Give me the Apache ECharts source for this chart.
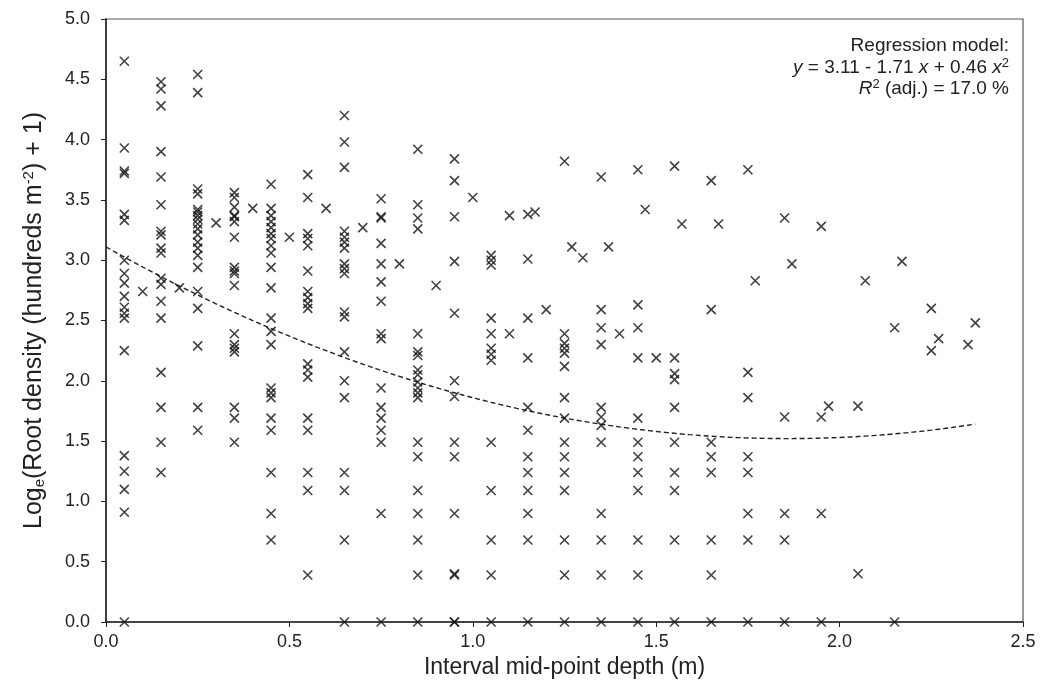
<!DOCTYPE html>
<html>
<head>
<meta charset="utf-8">
<script src="https://cdn.jsdelivr.net/npm/echarts@6/dist/echarts.min.js"></script>
<style>
  html, body { margin: 0; padding: 0; background: #fff; }
  #chart { width: 1044px; height: 697px; }
</style>
</head>
<body>
<div id="chart"></div>
<script>
// Interval mid-point depths (m) and the log root densities observed at each depth
const depths = [
  0.05, 0.10, 0.15, 0.20, 0.25, 0.30, 0.35, 0.40, 0.45, 0.50,
  0.55, 0.60, 0.65, 0.70, 0.75, 0.80, 0.85, 0.90, 0.95, 1.00,
  1.05, 1.10, 1.15, 1.17, 1.20, 1.25, 1.27, 1.30, 1.35, 1.37,
  1.40, 1.45, 1.47, 1.50, 1.55, 1.57, 1.65, 1.67, 1.75, 1.77,
  1.85, 1.87, 1.95, 1.97, 2.05, 2.07, 2.15, 2.17, 2.25, 2.27,
  2.35, 2.37
];
const logDensity = [
  [4.65, 3.93, 3.74, 3.72, 3.38, 3.33, 3.00, 2.89, 2.81, 2.70, 2.61, 2.56, 2.52, 2.25, 1.38, 1.25, 1.10, 0.91, 0.00],
  [2.74],
  [4.48, 4.42, 4.28, 3.90, 3.69, 3.46, 3.24, 3.21, 3.10, 3.06, 2.85, 2.80, 2.66, 2.52, 2.07, 1.78, 1.49, 1.24],
  [2.77],
  [4.54, 4.39, 3.59, 3.55, 3.42, 3.40, 3.37, 3.34, 3.30, 3.26, 3.21, 3.15, 3.10, 3.04, 2.94, 2.74, 2.60, 2.29, 1.78, 1.59],
  [3.31],
  [3.56, 3.52, 3.44, 3.37, 3.36, 3.32, 3.19, 2.94, 2.91, 2.89, 2.79, 2.39, 2.30, 2.27, 2.24, 1.78, 1.69, 1.49],
  [3.43],
  [3.63, 3.43, 3.37, 3.32, 3.27, 3.22, 3.18, 3.12, 3.06, 2.94, 2.77, 2.52, 2.41, 2.30, 1.94, 1.90, 1.86, 1.69, 1.59, 1.24, 0.90, 0.68],
  [3.19],
  [3.71, 3.52, 3.22, 3.18, 3.12, 2.91, 2.74, 2.69, 2.64, 2.60, 2.14, 2.09, 2.03, 1.69, 1.59, 1.24, 1.09, 0.39],
  [3.43],
  [4.20, 3.98, 3.77, 3.24, 3.19, 3.15, 3.10, 2.97, 2.93, 2.89, 2.57, 2.53, 2.24, 2.00, 1.86, 1.24, 1.09, 0.68, 0.00],
  [3.27],
  [3.51, 3.36, 3.35, 3.14, 2.97, 2.82, 2.66, 2.39, 2.35, 1.94, 1.78, 1.69, 1.59, 1.49, 0.90, 0.00],
  [2.97],
  [3.92, 3.46, 3.35, 3.26, 2.39, 2.24, 2.21, 2.09, 2.05, 1.99, 1.94, 1.90, 1.86, 1.49, 1.37, 1.09, 0.90, 0.68, 0.39, 0.00],
  [2.79],
  [3.84, 3.66, 3.36, 2.99, 2.56, 2.00, 1.87, 1.49, 1.37, 0.90, 0.40, 0.39, 0.00, 0.00],
  [3.52],
  [3.04, 3.00, 2.96, 2.52, 2.39, 2.27, 2.22, 2.17, 1.49, 1.09, 0.68, 0.39, 0.00],
  [3.37, 2.39],
  [3.38, 3.01, 2.52, 2.19, 1.78, 1.59, 1.37, 1.24, 1.09, 0.90, 0.68, 0.00],
  [3.40],
  [2.59],
  [3.82, 2.39, 2.31, 2.27, 2.23, 2.12, 1.86, 1.69, 1.49, 1.37, 1.24, 1.09, 0.68, 0.39, 0.00],
  [3.11],
  [3.02],
  [3.69, 2.59, 2.44, 2.30, 1.78, 1.70, 1.63, 1.49, 0.90, 0.68, 0.39, 0.00],
  [3.11],
  [2.39],
  [3.75, 2.63, 2.44, 2.19, 1.69, 1.49, 1.37, 1.24, 1.09, 0.68, 0.39, 0.00],
  [3.42],
  [2.19],
  [3.78, 2.19, 2.06, 2.01, 1.78, 1.49, 1.24, 1.09, 0.68, 0.00],
  [3.30],
  [3.66, 2.59, 1.49, 1.37, 1.24, 0.68, 0.39, 0.00],
  [3.30],
  [3.75, 2.07, 1.86, 1.37, 1.24, 0.90, 0.68, 0.00],
  [2.83],
  [3.35, 1.70, 0.90, 0.68, 0.00],
  [2.97],
  [3.28, 1.70, 0.90, 0.00],
  [1.79],
  [1.79, 0.40],
  [2.83],
  [2.44, 0.00],
  [2.99],
  [2.60, 2.25],
  [2.35],
  [2.30],
  [2.48]
];

// Fitted quadratic: y = b0 + b1 x + b2 x^2, drawn over the sampled depth range
const coefficients = [3.11, -1.71, 0.46];
const fitRange = [0, 2.37];

const xTicks = ['0.0', '0.5', '1.0', '1.5', '2.0', '2.5'];
const yTicks = ['0.0', '0.5', '1.0', '1.5', '2.0', '2.5', '3.0', '3.5', '4.0', '4.5', '5.0'];

const points = [];
depths.forEach((d, i) => logDensity[i].forEach(v => points.push([d, v])));

const curve = [];
for (let k = 0; k <= 237; k++) {
  const x = Math.min(fitRange[1], fitRange[0] + k * 0.01);
  curve.push([x, coefficients[0] + coefficients[1] * x + coefficients[2] * x * x]);
}

const FONT = '"Liberation Sans", Arial, Helvetica, sans-serif';
const INK = '#222';

const chart = echarts.init(document.getElementById('chart'), null, { renderer: 'canvas' });
chart.setOption({
  animation: false,
  backgroundColor: '#fff',
  grid: {
    left: 106, right: 21, top: 19, bottom: 75,
    show: true, borderColor: '#555', borderWidth: 1.2, backgroundColor: 'transparent'
  },
  xAxis: {
    type: 'value', min: 0, max: 2.5, interval: 0.5,
    axisLine: { show: true, onZero: false, lineStyle: { color: '#222', width: 1.5 } },
    axisTick: { show: true, inside: false, length: 5, lineStyle: { color: '#222', width: 1 } },
    splitLine: { show: false },
    axisLabel: {
      margin: 11, color: INK, fontFamily: FONT, fontSize: 18,
      formatter: v => xTicks[Math.round(v / 0.5)]
    },
    name: 'Interval mid-point depth (m)',
    nameLocation: 'middle', nameGap: 29,
    nameTextStyle: { color: INK, fontFamily: FONT, fontSize: 23 }
  },
  yAxis: {
    type: 'value', min: 0, max: 5, interval: 0.5,
    axisLine: { show: true, onZero: false, lineStyle: { color: '#222', width: 1.5 } },
    axisTick: { show: true, inside: false, length: 5, lineStyle: { color: '#222', width: 1 } },
    splitLine: { show: false },
    axisLabel: {
      margin: 16, color: INK, fontFamily: FONT, fontSize: 18,
      formatter: v => yTicks[Math.round(v / 0.5)]
    },
    name: 'Log{sub|e}(Root density (hundreds m{sup|-2}) + 1)',
    nameLocation: 'middle', nameGap: 59, nameRotate: 90,
    nameTextStyle: {
      color: INK, fontFamily: FONT, fontSize: 25,
      rich: {
        sub: { fontSize: 15, fontFamily: FONT, color: INK, verticalAlign: 'bottom', padding: [11, 0, 0, 0] },
        sup: { fontSize: 15, fontFamily: FONT, color: INK, verticalAlign: 'top', padding: [0, 0, 11, 0] }
      }
    }
  },
  series: [
    {
      type: 'scatter',
      data: points,
      symbol: 'path://M0,0L10,10M10,0L0,10',
      symbolSize: 9,
      itemStyle: { color: 'rgba(0,0,0,0)', borderColor: '#111', borderWidth: 1.6 },
      z: 3
    },
    {
      type: 'line',
      data: curve,
      showSymbol: false,
      smooth: false,
      lineStyle: { color: '#222', width: 1.4, type: [5, 3] },
      z: 2
    }
  ],
  graphic: [
    {
      type: 'text', right: 35, top: 36,
      style: { text: 'Regression model:', font: '19px ' + FONT, fill: INK, align: 'right' }
    },
    {
      type: 'text', right: 35, top: 57,
      style: {
        text: '{i|y} = 3.11 - 1.71 {i|x} + 0.46 {i|x}{s|2}',
        font: '19px ' + FONT, fill: INK,
        rich: {
          i: { fontStyle: 'italic', fontSize: 19, fontFamily: FONT, fill: INK },
          s: { fontSize: 13, fontFamily: FONT, fill: INK, verticalAlign: 'top', padding: [0, 0, 8, 0] }
        }
      }
    },
    {
      type: 'text', right: 35, top: 78,
      style: {
        text: '{i|R}{s|2} (adj.) = 17.0 %',
        font: '19px ' + FONT, fill: INK,
        rich: {
          i: { fontStyle: 'italic', fontSize: 19, fontFamily: FONT, fill: INK },
          s: { fontSize: 13, fontFamily: FONT, fill: INK, verticalAlign: 'top', padding: [0, 0, 8, 0] }
        }
      }
    }
  ]
});
</script>
</body>
</html>
